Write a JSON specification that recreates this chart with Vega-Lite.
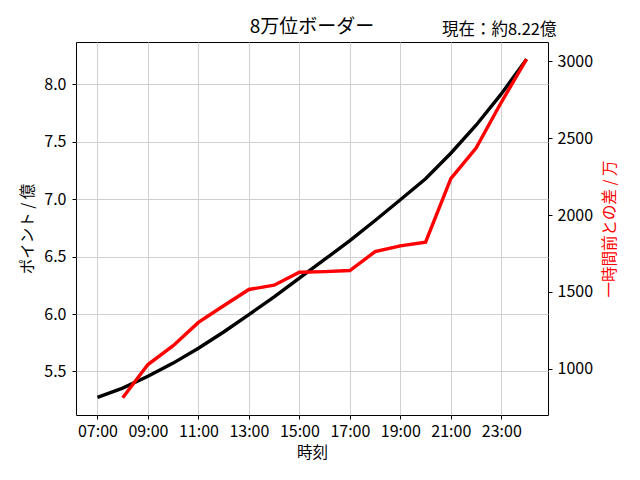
{
  "$schema": "https://vega.github.io/schema/vega-lite/v6.json",
  "width": 472,
  "height": 373,
  "autosize": {"type": "none"},
  "padding": {"left": 76, "top": 42, "right": 92, "bottom": 65},
  "background": "white",
  "title": {"text": "8万位ボーダー", "anchor": "middle", "frame": "group", "fontSize": 19, "fontWeight": "normal", "font": "Noto Sans CJK JP", "color": "black", "offset": -16},
  "config": {
    "font": "Noto Sans CJK JP",
    "view": {"stroke": "black", "strokeWidth": 1},
    "axis": {
      "labelFont": "Noto Sans CJK JP",
      "titleFont": "Noto Sans CJK JP",
      "labelFontSize": 16,
      "titleFontSize": 15.5,
      "titleFontWeight": "normal",
      "labelColor": "black",
      "titleColor": "black",
      "tickColor": "black",
      "domainColor": "black",
      "tickSize": 4,
      "labelPadding": 4,
      "gridColor": "#d0d0d0",
      "gridWidth": 1
    }
  },
  "data": {"values": [
    {"hour": 7, "point": 5.273, "diff": null},
    {"hour": 8, "point": 5.354, "diff": 812},
    {"hour": 9, "point": 5.457, "diff": 1028},
    {"hour": 10, "point": 5.572, "diff": 1151},
    {"hour": 11, "point": 5.702, "diff": 1302},
    {"hour": 12, "point": 5.843, "diff": 1410},
    {"hour": 13, "point": 5.995, "diff": 1516},
    {"hour": 14, "point": 6.149, "diff": 1544},
    {"hour": 15, "point": 6.312, "diff": 1628},
    {"hour": 16, "point": 6.475, "diff": 1632},
    {"hour": 17, "point": 6.639, "diff": 1639},
    {"hour": 18, "point": 6.815, "diff": 1762},
    {"hour": 19, "point": 6.995, "diff": 1800},
    {"hour": 20, "point": 7.178, "diff": 1824},
    {"hour": 21, "point": 7.401, "diff": 2237},
    {"hour": 22, "point": 7.645, "diff": 2435},
    {"hour": 23, "point": 7.918, "diff": 2733},
    {"hour": 24, "point": 8.220, "diff": 3014}
  ]},
  "layer": [
    {
      "mark": {"type": "line", "color": "black", "strokeWidth": 3.4},
      "encoding": {
        "x": {"field": "hour", "type": "quantitative",
              "scale": {"domain": [6.15, 24.85], "nice": false, "zero": false},
              "axis": {"orient": "bottom", "title": "時刻", "values": [7, 9, 11, 13, 15, 17, 19, 21, 23],
                       "labelExpr": "(datum.value < 10 ? '0' : '') + datum.value + ':00'",
                       "grid": true, "domain": false, "labelFlush": false, "labelOverlap": false, "titlePadding": 6}},
        "y": {"field": "point", "type": "quantitative",
              "scale": {"domain": [5.12, 8.37], "nice": false, "zero": false},
              "axis": {"orient": "left", "title": "ポイント / 億", "values": [5.5, 6.0, 6.5, 7.0, 7.5, 8.0], "format": ".1f",
                       "grid": true, "domain": false, "labelPadding": 6, "titlePadding": 8}}
      }
    },
    {
      "mark": {"type": "line", "color": "red", "strokeWidth": 3.4},
      "encoding": {
        "x": {"field": "hour", "type": "quantitative",
              "scale": {"domain": [6.15, 24.85], "nice": false, "zero": false},
              "axis": {"orient": "top", "title": "現在：約8.22億", "labels": false, "ticks": false, "domain": false, "grid": false,
                       "titleFontSize": 16.5, "titleAnchor": "end", "titleAlign": "right", "titleX": 480, "titlePadding": 5}},
        "y": {"field": "diff", "type": "quantitative",
              "scale": {"domain": [700, 3125], "nice": false, "zero": false},
              "axis": {"orient": "right", "title": "一時間前との差 / 万", "titleColor": "red", "titleAngle": -90, "titleBaseline": "top", "values": [1000, 1500, 2000, 2500, 3000], "format": "d",
                       "grid": false, "domain": false, "labelPadding": 5, "titlePadding": 10}}
      }
    }
  ],
  "resolve": {"scale": {"y": "independent"}, "axis": {"x": "independent"}}
}
